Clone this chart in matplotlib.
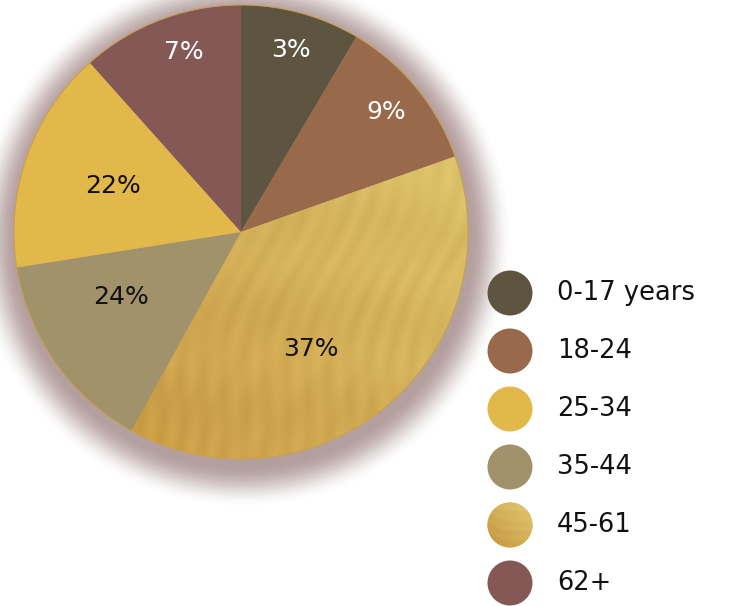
import numpy as np
import matplotlib
matplotlib.use("Agg")
import matplotlib.pyplot as plt
from matplotlib.patches import Circle

# ---- data (pie order, clockwise from 12 o'clock) ----
pie_categories = ["0-17 years", "18-24", "45-61", "35-44", "25-34", "62+"]
pie_values = [8.5, 11.1, 38.4, 14.5, 15.9, 11.6]          # slice sizes as drawn
pie_labels = ["3%", "9%", "37%", "24%", "22%", "7%"]       # printed labels
# legend order
legend_categories = ["0-17 years", "18-24", "25-34", "35-44", "45-61", "62+"]

colors = {
    "0-17 years": "#5E5540",
    "18-24": "#98694A",
    "25-34": "#E3B84A",
    "35-44": "#A1926C",
    "45-61": "#D2AE52",
    "62+": "#835855",
}
label_colors = {"0-17 years": "white", "18-24": "white", "62+": "white",
                "25-34": "#111111", "35-44": "#111111", "45-61": "#111111"}

W, H = 729, 606
fig = plt.figure(figsize=(W / 100, H / 100), dpi=100)
ax = fig.add_axes([0, 0, 1, 1])

cx, cy, R = 241, 606 - 232, 227

# ---- soft glow behind the pie ----
gx, gy = cx + 2, cy - 7
yy, xx = np.mgrid[0:H, 0:W]
d = np.hypot(xx + 0.5 - gx, (H - yy - 0.5) - gy)
s = np.clip((d - R) / 42.0, 0, 1)
a = (1 - s) ** 2 * (1 + 2 * s) * 0.55
a = np.where(d < R, 0.55, a)
glow = np.zeros((H, W, 4))
glow[..., 0] = 118 / 255
glow[..., 1] = 80 / 255
glow[..., 2] = 78 / 255
glow[..., 3] = a
ax.imshow(glow, extent=(0, W, 0, H), origin="upper", zorder=0, interpolation="bilinear")

wedges, _ = ax.pie(pie_values, colors=[colors[c] for c in pie_categories],
                   startangle=90, counterclock=False, center=(cx, cy), radius=R,
                   wedgeprops=dict(linewidth=0), frame=False)


def texture(n=300):
    # deterministic golden streak texture
    v, u = np.mgrid[0:n, 0:n] / n
    t = np.clip(0.6 * u + 0.6 * (1 - v) - 0.1, 0, 1)
    f = (np.sin(140 * (u * 0.97 + v * 0.25) + 4 * np.sin(11 * v)) * 0.5
         + np.sin(97 * (u * 0.9 + v * 0.45) + 3 * np.cos(13 * u)) * 0.3
         + np.sin(31 * (u * 0.3 - v * 0.95) + 2 * np.sin(5 * u)) * 0.4)
    base_dark = np.array([200, 152, 64]) / 255
    base_light = np.array([222, 198, 112]) / 255
    img = base_dark[None, None, :] * (1 - t[..., None]) + base_light[None, None, :] * t[..., None]
    img = img + f[..., None] * 0.022
    return np.clip(img, 0, 1)


tex = texture()
w45 = wedges[pie_categories.index("45-61")]
im = ax.imshow(tex, extent=(cx - R, cx + R, cy - R, cy + R), origin="upper",
               zorder=w45.get_zorder() + 0.1, interpolation="bilinear")
im.set_clip_path(w45)

# thin golden rim
ax.add_patch(Circle((cx, cy), R, fill=False, ec="#C9A04A", lw=0.7, zorder=5))

# ---- slice labels ----
label_pos = {"45-61": 0.43, "35-44": 0.37, "62+": 0.42}
total = sum(pie_values)
for w, cat, lab, val in zip(wedges, pie_categories, pie_labels, pie_values):
    pos = label_pos.get(cat, 0.5)
    mid = np.deg2rad(w.theta1 + (w.theta2 - w.theta1) * pos)
    frac = 0.83 if val / total < 0.13 else 0.6
    x = cx + frac * R * np.cos(mid)
    y = cy + frac * R * np.sin(mid)
    ax.text(x, y, lab, ha="center", va="center", fontsize=18,
            color=label_colors[cat], family="DejaVu Sans", zorder=6)

# ---- legend ----
ly0, dy = 606 - 293, 58
for i, cat in enumerate(legend_categories):
    y = ly0 - i * dy
    c = Circle((510, y), 22.5, fc=colors[cat], ec="none", zorder=5)
    ax.add_patch(c)
    if cat == "45-61":
        im2 = ax.imshow(tex, extent=(487, 533, y - 23, y + 23), origin="upper",
                        zorder=5.5, interpolation="bilinear")
        im2.set_clip_path(c)
    ax.text(557, y, cat, ha="left", va="center", fontsize=18.5, color="#111111",
            family="DejaVu Sans", zorder=6)

ax.set_xlim(0, W)
ax.set_ylim(0, H)
ax.set_aspect("equal")
ax.axis("off")
fig.savefig("out.png", dpi=100, facecolor="white")
